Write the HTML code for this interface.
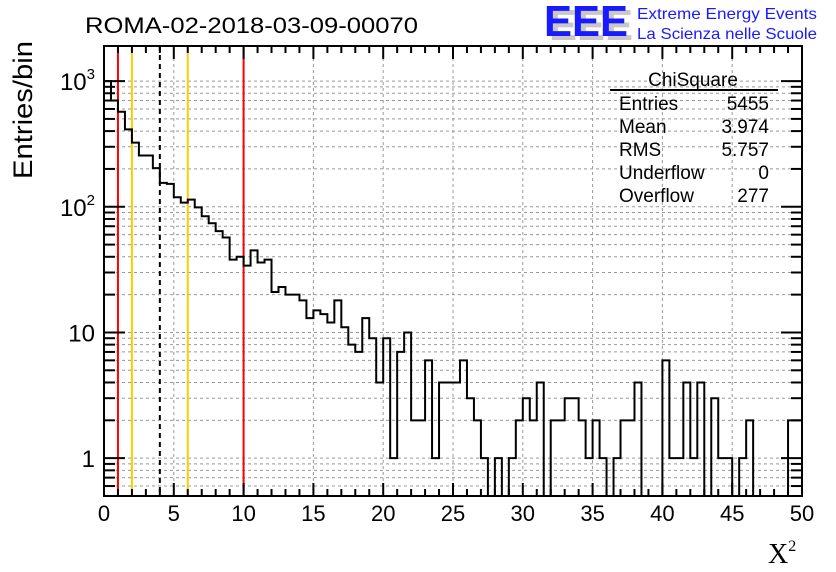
<!DOCTYPE html>
<html><head><meta charset="utf-8"><style>
body{margin:0;background:#fff;}
svg{display:block;font-family:"Liberation Sans",sans-serif;}
</style></head><body>
<svg id="c" width="836" height="572" xmlns="http://www.w3.org/2000/svg">
<text x="85" y="33" font-size="22" textLength="333" lengthAdjust="spacingAndGlyphs">ROMA-02-2018-03-09-00070</text>
<g>
<text x="549" y="40" font-size="44" font-weight="bold" fill="#c8c8c8" textLength="84" lengthAdjust="spacingAndGlyphs">EEE</text>
<text x="544" y="36" font-size="44" font-weight="bold" fill="#1a1aff" textLength="84" lengthAdjust="spacingAndGlyphs">EEE</text>
<text x="637" y="19" font-size="16" fill="#1a1aff" textLength="180" lengthAdjust="spacingAndGlyphs">Extreme Energy Events</text>
<text x="637" y="39" font-size="16" fill="#1a1aff" textLength="180" lengthAdjust="spacingAndGlyphs">La Scienza nelle Scuole</text>
</g>
<g id="grid"></g><g id="vlines"></g><g id="hist"></g><g id="axes"></g>
<g font-size="19">
<text x="693" y="86" text-anchor="middle">ChiSquare</text>
<line x1="610" y1="90" x2="778" y2="90" stroke="#000" stroke-width="2"/>
<text x="619" y="110">Entries</text><text x="769" y="110" text-anchor="end">5455</text>
<text x="619" y="133">Mean</text><text x="769" y="133" text-anchor="end">3.974</text>
<text x="619" y="156">RMS</text><text x="769" y="156" text-anchor="end">5.757</text>
<text x="619" y="179">Underflow</text><text x="769" y="179" text-anchor="end">0</text>
<text x="619" y="202">Overflow</text><text x="769" y="202" text-anchor="end">277</text>
</g>
<text transform="translate(32,110) rotate(-90)" text-anchor="middle" font-size="27" textLength="138" lengthAdjust="spacingAndGlyphs">Entries/bin</text>
<text x="768" y="563" font-size="28" font-family="Liberation Serif,serif">X<tspan font-size="16" dy="-12">2</tspan></text>
</svg>
<script>
const binWidth = 0.5;
const counts = [1000,700,570,413,324,256,256,203,155,152,119,108,114,99,84,74,64,57,38,40,
34,45,36,38,21,23,20,20,18,13,15,14,12,18,11,8,7,13,9,4,
9,1,7,10,2,2,6,1,4,4,4,6,3,2,1,0,1,0,1,2,
3,2,4,0,2,2,3,3,2,1,2,1,0,1,2,2,4,0,0,0,
6,1,1,4,1,4,0,3,1,1,0,1,2,0,0,0,0,0,2,2];
const xTicks = [0,5,10,15,20,25,30,35,40,45,50];
const yMajor = [1,10,100,1000];
const yLabels = ["1","10","10^2","10^3"];
const cutLines = [{x:1,c:"#ff0000",d:""},{x:2,c:"#ffcc00",d:""},{x:4,c:"#000",d:"5,4"},{x:6,c:"#ffcc00",d:""},{x:10,c:"#ff0000",d:""}];

const L=104,R=802,T=46,B=496,yMin=0.5,yMax=1901;
const sx=v=>L+(v/50)*(R-L);
const sy=v=>B-(Math.log10(v)-Math.log10(yMin))/(Math.log10(yMax)-Math.log10(yMin))*(B-T);
const NS="http://www.w3.org/2000/svg";
function mk(p,t,a){const e=document.createElementNS(NS,t);for(const k in a)e.setAttribute(k,a[k]);p.appendChild(e);return e;}
const grid=document.getElementById('grid'),vl=document.getElementById('vlines'),hist=document.getElementById('hist'),ax=document.getElementById('axes');
for(const t of xTicks){if(t===0||t===50)continue;const g=mk(grid,'line',{x1:sx(t),x2:sx(t),y1:T,y2:B,stroke:'#999','stroke-dasharray':'3,3','stroke-width':1});

}
for(let d=0.1;d<=1000;d*=10){for(let m=1;m<10;m++){const v=d*m;if(v<=yMin||v>=yMax)continue;const g=mk(grid,'line',{x1:L,x2:R,y1:sy(v),y2:sy(v),stroke:'#999','stroke-dasharray':'3,3','stroke-width':1});

}}
for(const c of cutLines){const e=mk(vl,'line',{x1:sx(c.x),x2:sx(c.x),y1:T,y2:B,stroke:c.c,'stroke-width':2});if(c.d)e.setAttribute('stroke-dasharray',c.d);

}
let d='';
counts.forEach((v,i)=>{const x0=sx(i*binWidth),x1=sx((i+1)*binWidth);const y=v>0?Math.max(sy(v),T):B;
if(i===0)d+=`M${x0},${y}`;else d+=`L${x0},${y}`;d+=`L${x1},${y}`;});
const h=mk(hist,'path',{d:d,fill:'none',stroke:'#000','stroke-width':2});


const f=mk(ax,'rect',{x:L,y:T,width:R-L,height:B-T,fill:'none',stroke:'#000','stroke-width':2});


for(let t=0;t<=50;t++){const big=t%5===0;const len=big?13:7;
mk(ax,'line',{x1:sx(t),x2:sx(t),y1:B,y2:B-len,stroke:'#000','stroke-width':2});
mk(ax,'line',{x1:sx(t),x2:sx(t),y1:T,y2:T+len,stroke:'#000','stroke-width':2});}
xTicks.forEach(t=>{const e=mk(ax,'text',{x:sx(t),y:521,'text-anchor':'middle','font-size':22});e.textContent=t;

});
for(let dd=0.1;dd<=1000;dd*=10){for(let m=1;m<10;m++){const v=dd*m;if(v<yMin||v>yMax)continue;const big=m===1;const len=big?21:11;
mk(ax,'line',{x1:L,x2:L+len,y1:sy(v),y2:sy(v),stroke:'#000','stroke-width':2});
mk(ax,'line',{x1:R,x2:R-len,y1:sy(v),y2:sy(v),stroke:'#000','stroke-width':2});}}
yMajor.forEach((v,i)=>{const e=mk(ax,'text',{x:95,y:sy(v)+9,'text-anchor':'end','font-size':24});
const lab=yLabels[i];
if(lab.includes('^')){const [b,p]=lab.split('^');e.textContent=b;const ts=mk(e,'tspan',{'font-size':15,dy:-11});ts.textContent=p;}else e.textContent=lab;

});
</script>
</body></html>
